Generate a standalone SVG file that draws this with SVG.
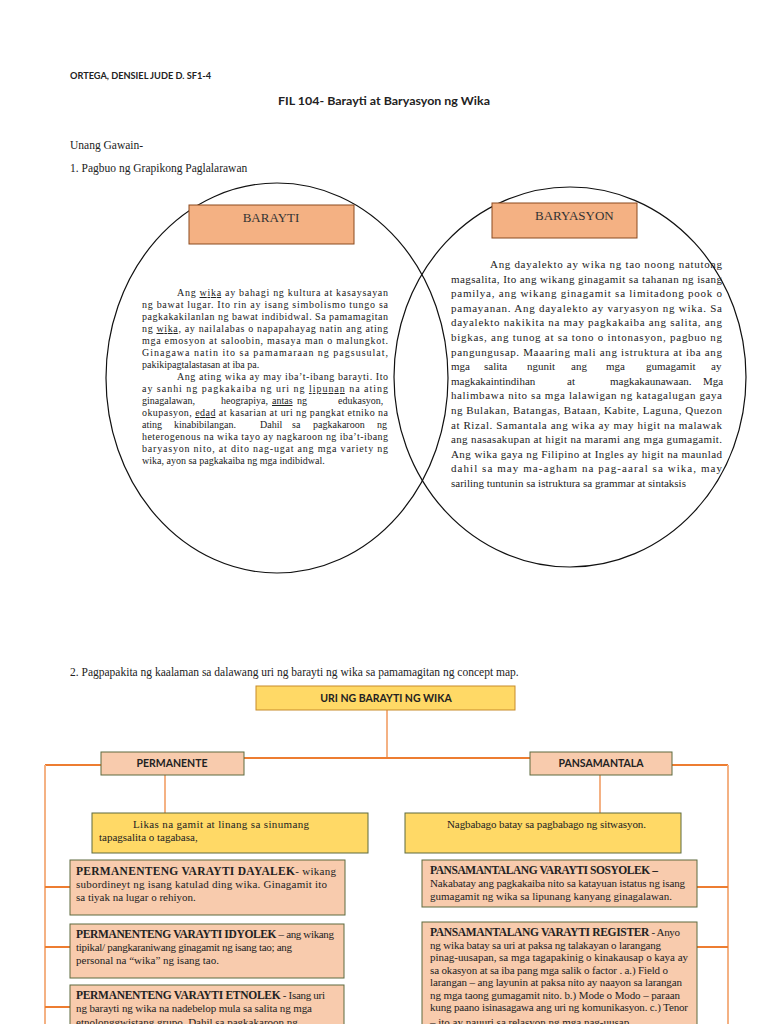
<svg xmlns="http://www.w3.org/2000/svg" width="768" height="1024" viewBox="0 0 768 1024">
<style>
.hd{font-family:Lato,"Liberation Sans",sans-serif;font-weight:bold;fill:#222}
.sr{font-family:"Liberation Serif",serif;fill:#222}
.lt{font-family:"Liberation Serif",serif;font-size:10px;fill:#222}
.rt{font-family:"Liberation Serif",serif;font-size:11px;fill:#222}
.circ{fill:none;stroke:#111;stroke-width:1.2}
.tbox{fill:#F4B183;stroke:#8B4A1F;stroke-width:1}
.ttl{font-family:"Liberation Serif",serif;font-size:13px;fill:#333}
.ybox{fill:#FFD966;stroke:#5E6B3F;stroke-width:1}
.pbox{fill:#F8CBAD;stroke:#5E6B3F;stroke-width:1}
.cm{font-family:Lato,"Liberation Sans",sans-serif;font-weight:bold;font-size:10.5px;fill:#222;text-anchor:middle}
.bt{font-family:"Liberation Serif",serif;font-size:11px;fill:#222}
.b{font-weight:bold;font-size:11.5px}
.c1{stroke:#ED7D31;stroke-width:2;fill:none}
.c2{stroke:#F4B183;stroke-width:2;fill:none}
.c3{stroke:#ED7D31;stroke-width:1.2;fill:none}
.u{text-decoration:underline}
</style>
<rect x="0" y="0" width="768" height="1024" fill="#ffffff"/>

<g id="header">
<text class="hd" x="70" y="79" font-size="9" textLength="141" lengthAdjust="spacingAndGlyphs">ORTEGA, DENSIEL JUDE D. SF1-4</text>
<text class="hd" x="278" y="105" font-size="11.5" textLength="212" lengthAdjust="spacingAndGlyphs">FIL 104- Barayti at Baryasyon ng Wika</text>
<text class="sr" x="70" y="149" font-size="11.5">Unang Gawain-</text>
<text class="sr" x="70" y="172" font-size="11.5">1. Pagbuo ng Grapikong Paglalarawan</text>
</g>

<g id="venn-circles">
<ellipse class="circ" cx="277" cy="378" rx="171" ry="195"/>
<ellipse class="circ" cx="570" cy="377" rx="176" ry="190"/>
</g>

<g id="barayti">
<rect class="tbox" x="189" y="205" width="165" height="39"/>
<text class="ttl" x="271" y="222" text-anchor="middle">BARAYTI</text>
<g class="lt">
<text x="177" y="296" textLength="211" lengthAdjust="spacing">Ang <tspan class="u">wika</tspan> ay bahagi ng kultura at kasaysayan</text>
<text x="142" y="308" textLength="246" lengthAdjust="spacing">ng bawat lugar. Ito rin ay isang simbolismo tungo sa</text>
<text x="142" y="320" textLength="246" lengthAdjust="spacing">pagkakakilanlan ng bawat indibidwal. Sa pamamagitan</text>
<text x="142" y="332" textLength="246" lengthAdjust="spacing">ng <tspan class="u">wika</tspan>, ay nailalabas o napapahayag natin ang ating</text>
<text x="142" y="344" textLength="246" lengthAdjust="spacing">mga emosyon at saloobin, masaya man o malungkot.</text>
<text x="142" y="356" textLength="246" lengthAdjust="spacing">Ginagawa natin ito sa pamamaraan ng pagsusulat,</text>
<text x="142" y="368">pakikipagtalastasan at iba pa.</text>
<text x="177" y="380" textLength="211" lengthAdjust="spacing">Ang ating wika ay may iba’t-ibang barayti. Ito</text>
<text x="142" y="392" textLength="246" lengthAdjust="spacing">ay sanhi ng pagkakaiba ng uri ng <tspan class="u">lipunan</tspan> na ating</text>
<text y="404"><tspan x="142">ginagalawan,</tspan><tspan x="221">heograpiya,</tspan><tspan x="272" class="u">antas</tspan><tspan x="297">ng</tspan><tspan x="338">edukasyon,</tspan></text>
<text x="142" y="416" textLength="246" lengthAdjust="spacing">okupasyon, <tspan class="u">edad</tspan> at kasarian at uri ng pangkat etniko na</text>
<text y="428"><tspan x="142">ating</tspan><tspan x="174">kinabibilangan.</tspan><tspan x="260">Dahil</tspan><tspan x="292">sa</tspan><tspan x="313">pagkakaroon</tspan><tspan x="377">ng</tspan></text>
<text x="142" y="440" textLength="246" lengthAdjust="spacing">heterogenous na wika tayo ay nagkaroon ng iba’t-ibang</text>
<text x="142" y="452" textLength="246" lengthAdjust="spacing">baryasyon nito, at dito nag-ugat ang mga variety ng</text>
<text x="142" y="464">wika, ayon sa pagkakaiba ng mga indibidwal.</text>
</g>
</g>

<g id="baryasyon">
<rect class="tbox" x="492" y="203" width="145" height="35"/>
<text class="ttl" x="535" y="220">BARYASYON</text>
<g class="rt">
<text x="490" y="268" textLength="232" lengthAdjust="spacing">Ang dayalekto ay wika ng tao noong natutong</text>
<text x="451" y="282.6" textLength="271" lengthAdjust="spacing">magsalita, Ito ang wikang ginagamit sa tahanan ng isang</text>
<text x="451" y="297.2" textLength="271" lengthAdjust="spacing">pamilya, ang wikang ginagamit sa limitadong pook o</text>
<text x="451" y="311.8" textLength="271" lengthAdjust="spacing">pamayanan. Ang dayalekto ay varyasyon ng wika. Sa</text>
<text x="451" y="326.4" textLength="271" lengthAdjust="spacing">dayalekto nakikita na may pagkakaiba ang salita, ang</text>
<text x="451" y="341" textLength="271" lengthAdjust="spacing">bigkas, ang tunog at sa tono o intonasyon, pagbuo ng</text>
<text x="451" y="355.6" textLength="271" lengthAdjust="spacing">pangungusap. Maaaring mali ang istruktura at iba ang</text>
<text y="370.2"><tspan x="451">mga</tspan><tspan x="484">salita</tspan><tspan x="527">ngunit</tspan><tspan x="571">ang</tspan><tspan x="606">mga</tspan><tspan x="646">gumagamit</tspan><tspan x="711">ay</tspan></text>
<text y="384.8"><tspan x="451">magkakaintindihan</tspan><tspan x="567">at</tspan><tspan x="610">magkakaunawaan.</tspan><tspan x="703">Mga</tspan></text>
<text x="451" y="399.4" textLength="271" lengthAdjust="spacing">halimbawa nito sa mga lalawigan ng katagalugan gaya</text>
<text x="451" y="414" textLength="271" lengthAdjust="spacing">ng Bulakan, Batangas, Bataan, Kabite, Laguna, Quezon</text>
<text x="451" y="428.6" textLength="271" lengthAdjust="spacing">at Rizal. Samantala ang wika ay may higit na malawak</text>
<text x="451" y="443.2" textLength="271" lengthAdjust="spacing">ang nasasakupan at higit na marami ang mga gumagamit.</text>
<text x="451" y="457.8" textLength="271" lengthAdjust="spacing">Ang wika gaya ng Filipino at Ingles ay higit na maunlad</text>
<text x="451" y="472.4" textLength="271" lengthAdjust="spacing">dahil sa may ma-agham na pag-aaral sa wika, may</text>
<text x="451" y="487">sariling tuntunin sa istruktura sa grammar at sintaksis</text>
</g>
</g>

<text class="sr" x="70" y="676" font-size="11.5">2. Pagpapakita ng kaalaman sa dalawang uri ng barayti ng wika sa pamamagitan ng concept map.</text>

<g id="connectors">
<line class="c2" x1="387" y1="710" x2="387" y2="758"/>
<line class="c1" x1="244" y1="758" x2="530" y2="758"/>
<polyline class="c1" points="101,765 45,765"/>
<polyline class="c2" points="45,765 45,1024"/>
<polyline class="c1" points="672,765 728,765"/>
<polyline class="c2" points="728,765 728,1024"/>
<line class="c3" x1="165" y1="775" x2="165" y2="813"/>
<line class="c3" x1="600" y1="775" x2="600" y2="813"/>
<line class="c1" x1="45" y1="887" x2="70" y2="887"/>
<line class="c1" x1="45" y1="947" x2="70" y2="947"/>
<line class="c1" x1="45" y1="1007" x2="70" y2="1007"/>
<line class="c1" x1="697" y1="887" x2="728" y2="887"/>
<line class="c1" x1="697" y1="947" x2="728" y2="947"/>
</g>

<g id="uri">
<rect x="256" y="686" width="259" height="24" fill="#FFD966" stroke="#C78B2A" stroke-width="1"/>
<text class="cm" x="386" y="702">URI NG BARAYTI NG WIKA</text>
</g>

<g id="permanente">
<rect class="pbox" x="101" y="752" width="143" height="23"/>
<text class="cm" x="172" y="767">PERMANENTE</text>
</g>

<g id="pansamantala">
<rect class="pbox" x="530" y="752" width="142" height="23"/>
<text class="cm" x="601" y="767">PANSAMANTALA</text>
</g>

<g id="likas">
<rect class="ybox" x="92" y="813" width="276" height="40"/>
<text class="bt" x="133" y="828" textLength="176" lengthAdjust="spacing">Likas na gamit at linang sa sinumang</text>
<text class="bt" x="99" y="841">tapagsalita o tagabasa,</text>
</g>

<g id="nagbabago">
<rect class="ybox" x="405" y="813" width="276" height="40"/>
<text class="bt" x="447" y="828" textLength="199" lengthAdjust="spacing">Nagbabago batay sa pagbabago ng sitwasyon.</text>
</g>

<g id="dayalek">
<rect class="pbox" x="70" y="860" width="275" height="55"/>
<text class="bt" x="76" y="875" textLength="260" lengthAdjust="spacing"><tspan class="b">PERMANENTENG VARAYTI DAYALEK</tspan>- wikang</text>
<text class="bt" x="76" y="888" textLength="251" lengthAdjust="spacing">subordineyt ng isang katulad ding wika. Ginagamit ito</text>
<text class="bt" x="76" y="901">sa tiyak na lugar o rehiyon.</text>
</g>

<g id="idyolek">
<rect class="pbox" x="70" y="924" width="274" height="54"/>
<text class="bt" x="76" y="938" textLength="258" lengthAdjust="spacing"><tspan class="b">PERMANENTENG VARAYTI IDYOLEK</tspan> – ang wikang</text>
<text class="bt" x="76" y="951" textLength="216" lengthAdjust="spacing">tipikal/ pangkaraniwang ginagamit ng isang tao; ang</text>
<text class="bt" x="76" y="964">personal na “wika” ng isang tao.</text>
</g>

<g id="etnolek">
<rect class="pbox" x="70" y="985" width="274" height="50"/>
<text class="bt" x="76" y="999" textLength="249" lengthAdjust="spacing"><tspan class="b">PERMANENTENG VARAYTI ETNOLEK</tspan> - Isang uri</text>
<text class="bt" x="76" y="1012" textLength="236" lengthAdjust="spacing">ng barayti ng wika na nadebelop mula sa salita ng mga</text>
<text class="bt" x="76" y="1026">etnolonggwistang grupo. Dahil sa pagkakaroon ng</text>
</g>

<g id="sosyolek">
<rect class="pbox" x="422" y="860" width="275" height="47"/>
<text class="bt" x="430" y="874" textLength="228" lengthAdjust="spacing"><tspan class="b">PANSAMANTALANG VARAYTI SOSYOLEK –</tspan></text>
<text class="bt" x="430" y="887" textLength="255" lengthAdjust="spacing">Nakabatay ang pagkakaiba nito sa katayuan istatus ng isang</text>
<text class="bt" x="430" y="900" textLength="242" lengthAdjust="spacing">gumagamit ng wika sa lipunang kanyang ginagalawan.</text>
</g>

<g id="register">
<rect class="pbox" x="422" y="922" width="275" height="110"/>
<text class="bt" x="430" y="936" textLength="250" lengthAdjust="spacing"><tspan class="b">PANSAMANTALANG VARAYTI REGISTER</tspan> - Anyo</text>
<text class="bt" x="430" y="948.5" textLength="231" lengthAdjust="spacing">ng wika batay sa uri at paksa ng talakayan o larangang</text>
<text class="bt" x="430" y="961" textLength="258" lengthAdjust="spacing">pinag-uusapan, sa mga tagapakinig o kinakausap o kaya ay</text>
<text class="bt" x="430" y="973.5" textLength="238" lengthAdjust="spacing">sa okasyon at sa iba pang mga salik o factor . a.) Field o</text>
<text class="bt" x="430" y="986" textLength="252" lengthAdjust="spacing">larangan – ang layunin at paksa nito ay naayon sa larangan</text>
<text class="bt" x="430" y="998.5" textLength="250" lengthAdjust="spacing">ng mga taong gumagamit nito. b.) Mode o Modo – paraan</text>
<text class="bt" x="430" y="1011" textLength="258" lengthAdjust="spacing">kung paano isinasagawa ang uri ng komunikasyon. c.) Tenor</text>
<text class="bt" x="430" y="1026">– ito ay nauuri sa relasyon ng mga nag-uusap</text>
</g>
</svg>
